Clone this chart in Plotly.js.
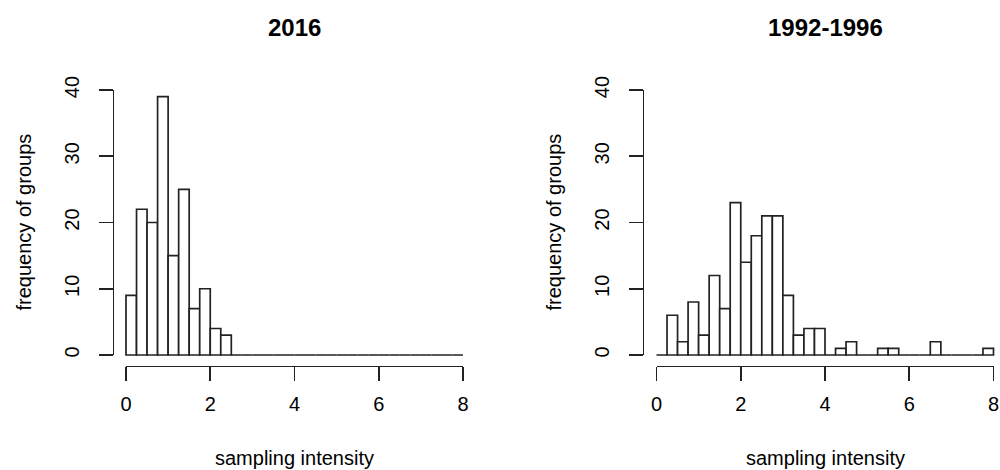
<!DOCTYPE html>
<html>
<head>
<meta charset="utf-8">
<script src="https://cdn.plot.ly/plotly-3.0.1.min.js"></script>
<style>html,body{margin:0;padding:0;background:#fff;}#chart{width:1000px;height:470px;}</style>
</head>
<body>
<div id="chart"></div>
<script>
// ---- data ----
const binWidth = 0.25;
const binStarts = [0,0.25,0.5,0.75,1,1.25,1.5,1.75,2,2.25,2.5,2.75,3,3.25,3.5,3.75,
                   4,4.25,4.5,4.75,5,5.25,5.5,5.75,6,6.25,6.5,6.75,7,7.25,7.5,7.75];
const counts2016 = [9,22,20,39,15,25,7,10,4,3,0,0,0,0,0,0,
                    0,0,0,0,0,0,0,0,0,0,0,0,0,0,0,0];
const counts1992 = [0,6,2,8,3,12,7,23,14,18,21,21,9,3,4,4,
                    0,1,2,0,0,1,1,0,0,0,2,0,0,0,0,1];
const panelTitles = ["2016", "1992-1996"];
const xLabel = "sampling intensity";
const yLabel = "frequency of groups";
const xTicks = [0,2,4,6,8];
const yTicks = [0,10,20,30,40];

// ---- style ----
const FONT = "Liberation Sans, Arial, Helvetica, sans-serif";
const INK = "#222222";
const LW = 1.7;
const W = 1000, H = 470;
const px = v => v / W;
const py = v => (H - v) / H;

function barTrace(counts, xa, ya) {
  return {
    type: "bar", x: binStarts, y: counts, width: binWidth, offset: 0,
    xaxis: xa, yaxis: ya,
    marker: {color: "#ffffff", line: {color: INK, width: LW}},
    hoverinfo: "x+y"
  };
}
const data = [
  barTrace(counts2016, "x", "y"),
  barTrace(counts1992, "x2", "y2"),
  {type: "scatter", x: [], y: [], xaxis: "x3", yaxis: "y3", showlegend: false},
  {type: "scatter", x: [], y: [], xaxis: "x4", yaxis: "y4", showlegend: false}
];

// panel geometry (pixels)
const panels = [
  {x0: 126, x8: 463, yAxisX: 112.5},
  {x0: 656.5, x8: 993.5, yAxisX: 642.5}
];
const yZero = 355, yForty = 90, xAxisY = 365.6;
const ppu = (yZero - yForty) / 40;
const yDom = [py(yZero + 1.6 * ppu), py(yForty - 1.6 * ppu)];

function hiddenX(p) {
  const u = (p.x8 - p.x0) / 8;
  const left = p.x0 - 0.32 * u;
  const right = Math.min(p.x8 + 0.32 * u, W);
  return {domain: [px(left), px(right)], range: [-0.32, (right - p.x0) / u],
          visible: false, fixedrange: true};
}
function hiddenY() {
  return {domain: yDom, range: [-1.6, 41.6], visible: false, fixedrange: true};
}
function visX(p) {
  return {domain: [px(p.x0), px(p.x8)], range: [0, 8], anchor: "free", position: yDom[0],
          showline: true, linecolor: INK, linewidth: LW, showgrid: false, zeroline: false,
          ticks: "outside", ticklen: 14, tickwidth: LW, tickcolor: INK,
          tickvals: xTicks, ticktext: xTicks.map(String), ticklabelstandoff: 6,
          tickfont: {family: FONT, size: 20, color: "#000"}, fixedrange: true};
}
function visY(p) {
  return {domain: [py(yZero), py(yForty)], range: [0, 40], anchor: "free", position: px(p.yAxisX),
          showline: true, linecolor: INK, linewidth: LW, showgrid: false, zeroline: false,
          ticks: "outside", ticklen: 14, tickwidth: LW, tickcolor: INK, tickangle: -90,
          tickvals: yTicks, ticktext: yTicks.map(String), ticklabelstandoff: 12,
          tickfont: {family: FONT, size: 20, color: "#000"}, fixedrange: true};
}

const annotations = [];
panels.forEach((p, i) => {
  const cx = (p.x0 + p.x8) / 2;
  annotations.push({text: "<b>" + panelTitles[i] + "</b>", x: px(cx), y: py(27), xref: "paper", yref: "paper",
                    xanchor: "center", yanchor: "middle", showarrow: false,
                    font: {family: FONT, size: 24, color: "#000"}});
  annotations.push({text: xLabel, x: px(cx), y: py(458), xref: "paper", yref: "paper",
                    xanchor: "center", yanchor: "middle", showarrow: false,
                    font: {family: FONT, size: 20, color: "#000"}});
  annotations.push({text: yLabel, x: px(p.yAxisX - 89), y: py(222), xref: "paper", yref: "paper",
                    xanchor: "center", yanchor: "middle", textangle: -90, showarrow: false,
                    font: {family: FONT, size: 20, color: "#000"}});
});

const layout = {
  width: W, height: H, margin: {l: 0, r: 0, t: 0, b: 0},
  paper_bgcolor: "#fff", plot_bgcolor: "rgba(0,0,0,0)",
  showlegend: false, bargap: 0,
  font: {family: FONT, color: "#000"},
  xaxis: hiddenX(panels[0]), yaxis: hiddenY(),
  xaxis2: hiddenX(panels[1]), yaxis2: hiddenY(),
  xaxis3: visX(panels[0]), yaxis3: visY(panels[0]),
  xaxis4: visX(panels[1]), yaxis4: visY(panels[1]),
  annotations: annotations
};
Plotly.newPlot("chart", data, layout, {displayModeBar: false, staticPlot: true});
</script>
</body>
</html>
